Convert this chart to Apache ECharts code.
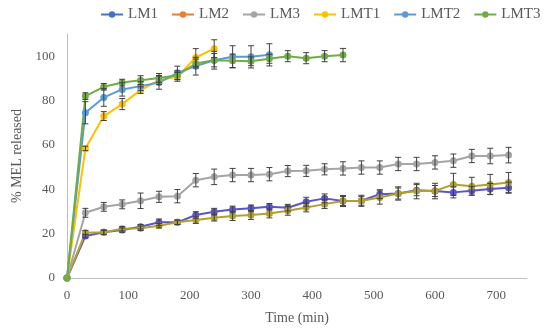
<!DOCTYPE html>
<html><head><meta charset="utf-8">
<script src="https://cdn.jsdelivr.net/npm/echarts@6/dist/echarts.min.js"></script>
<style>html,body{margin:0;padding:0;background:#fff}#c{width:550px;height:335px}</style>
</head><body><div id="c"></div>
<script>
const timesLM = [0,30,60,90,120,150,180,210,240,270,300,330,360,390,420,450,480,510,540,570,600,630,660,690,720];
const timesLMT1 = [0,30,60,90,120,150,180,210,240];
const timesLMT2 = [0,30,60,90,120,150,180,210,240,270,300,330];
const timesLMT3 = [0,30,60,90,120,150,180,210,240,270,300,330,360,390,420,450];

const LM1 = [0,18.9,20.6,21.6,23.1,25.1,25.1,28.4,29.9,30.9,31.4,32.1,31.7,34.4,35.9,34.7,34.8,37.8,38.1,39.6,39.2,38.6,39.3,40.1,40.7];
const LM1err = [0,0.8,1,1,1,1.5,1,1.5,1.5,1.5,1.5,1.5,1.5,2,2,2,2,2,2.5,2.5,2.5,2.5,2,2.5,2.5];
const LM2 = [0,20.4,20.6,22.2,22.4,23.6,25.1,26.1,27.2,27.9,28.4,29.1,30.3,31.8,33.3,34.7,34.8,36.3,38.1,39.2,39.2,42.2,41.4,42.2,43.1];
const LM2err = [0,1,1,1,1,1,1,1.5,1.5,2,2,2,2,2,2,2.5,2.5,3,3,3.5,3.5,5,4,4.5,4.5];
const LM3 = [0,29.4,32.1,33.2,34.8,36.6,36.9,44.1,45.6,46.4,46.4,46.8,48.2,48.3,49.0,49.4,49.8,49.8,51.4,51.4,52.1,52.9,55.0,55.0,55.4];
const LM3err = [0,2,2,2,3.5,2.5,3,3,3.5,3,3,3,2.5,2.5,2.5,3,3,3,3,3,3,3,3,3.5,3.5];
const LMT1 = [0,58.4,73,78.4,84.7,89.2,90.7,99.4,103.4];
const LMT1err = [0,1,2,2.5,1.5,2,2,4,4];
const LMT2 = [0,74.5,81.4,85,86.5,88.1,92.5,95.5,98.2,99.7,99.7,100.6];
const LMT2err = [0,5,4,3,2,3,3,4,4,5,5,5];
const LMT3 = [0,82,86.2,88.1,89.2,90.2,91.4,96.7,98.2,97.9,97.7,98.8,100,99.1,100,100.5];
const LMT3err = [0,1.5,1.5,1.5,2,2,2,2,3,3,2,2,2.5,2.5,2.5,3];

const xTicks = [0,100,200,300,400,500,600,700];
const yTicks = [0,20,40,60,80,100];

const seriesDefs = [
  {name:'LM1', t:timesLM, v:LM1, e:LM1err, color:'#5b55c9', legendColor:'#4472C4'},
  {name:'LM2', t:timesLM, v:LM2, e:LM2err, color:'#b3a033', legendColor:'#ED7D31'},
  {name:'LM3', t:timesLM, v:LM3, e:LM3err, color:'#A5A5A5', legendColor:'#A5A5A5'},
  {name:'LMT1', t:timesLMT1, v:LMT1, e:LMT1err, color:'#FFC000', legendColor:'#FFC000'},
  {name:'LMT2', t:timesLMT2, v:LMT2, e:LMT2err, color:'#5B9BD5', legendColor:'#5B9BD5'},
  {name:'LMT3', t:timesLMT3, v:LMT3, e:LMT3err, color:'#70AD47', legendColor:'#70AD47'}
];

const series = [];
seriesDefs.forEach(function(s){
  series.push({
    name:s.name, type:'line', data:s.t.map(function(t,i){return [t,s.v[i]];}),
    symbol:'circle', symbolSize:7, showSymbol:true,
    lineStyle:{width:2,color:s.color}, itemStyle:{color:s.color}, z:2
  });
  series.push({
    name:s.name, type:'custom', z:3,
    data:s.t.map(function(t,i){return [t,s.v[i]-s.e[i],s.v[i]+s.e[i]];}).filter(function(d,i){return s.e[i]>0;}),
    renderItem:function(params, api){
      const lo = api.coord([api.value(0), api.value(1)]);
      const hi = api.coord([api.value(0), api.value(2)]);
      const w = 3;
      const st = {stroke:'#404040', lineWidth:1};
      return {type:'group', children:[
        {type:'line', shape:{x1:lo[0],y1:lo[1],x2:hi[0],y2:hi[1]}, style:st},
        {type:'line', shape:{x1:lo[0]-w,y1:lo[1],x2:lo[0]+w,y2:lo[1]}, style:st},
        {type:'line', shape:{x1:hi[0]-w,y1:hi[1],x2:hi[0]+w,y2:hi[1]}, style:st}
      ]};
    },
    encode:{x:0,y:[1,2]}, silent:true
  });
});

const chart = echarts.init(document.getElementById('c'), null, {renderer:'canvas'});
chart.setOption({
  animation:false,
  backgroundColor:'#fff',
  textStyle:{fontFamily:'Liberation Serif'},
  legend:{
    top:7, left:100, width:460, padding:0, itemWidth:22, itemHeight:8, itemGap:13,
    textStyle:{fontFamily:'Liberation Serif', fontSize:15, color:'#595959'},
    data:seriesDefs.map(function(s){return {name:s.name, itemStyle:{color:s.legendColor}, lineStyle:{color:s.legendColor}};})
  },
  grid:{left:67, right:23, top:34, bottom:57},
  xAxis:{
    type:'value', min:0, max:750, interval:100,
    name:'Time (min)', nameLocation:'middle', nameGap:33,
    nameTextStyle:{fontFamily:'Liberation Serif', fontSize:14, color:'#595959'},
    axisLine:{lineStyle:{color:'#bfbfbf'}}, axisTick:{show:false}, splitLine:{show:false},
    axisLabel:{showMaxLabel:false, fontFamily:'Liberation Serif', fontSize:13, color:'#595959', margin:11,
      formatter:function(v){return xTicks.indexOf(v)>=0?String(v):'';}}
  },
  yAxis:{
    type:'value', min:0, max:110, interval:20,
    name:'% MEL released', nameLocation:'middle', nameGap:36, nameRotate:90,
    nameTextStyle:{fontFamily:'Liberation Serif', fontSize:14, color:'#595959'},
    axisLine:{show:true, lineStyle:{color:'#bfbfbf'}}, axisTick:{show:false}, splitLine:{show:false},
    axisLabel:{showMaxLabel:false, fontFamily:'Liberation Serif', fontSize:13, color:'#595959', margin:12,
      formatter:function(v){return yTicks.indexOf(v)>=0?String(v):'';}}
  },
  series:series
});
</script></body></html>
